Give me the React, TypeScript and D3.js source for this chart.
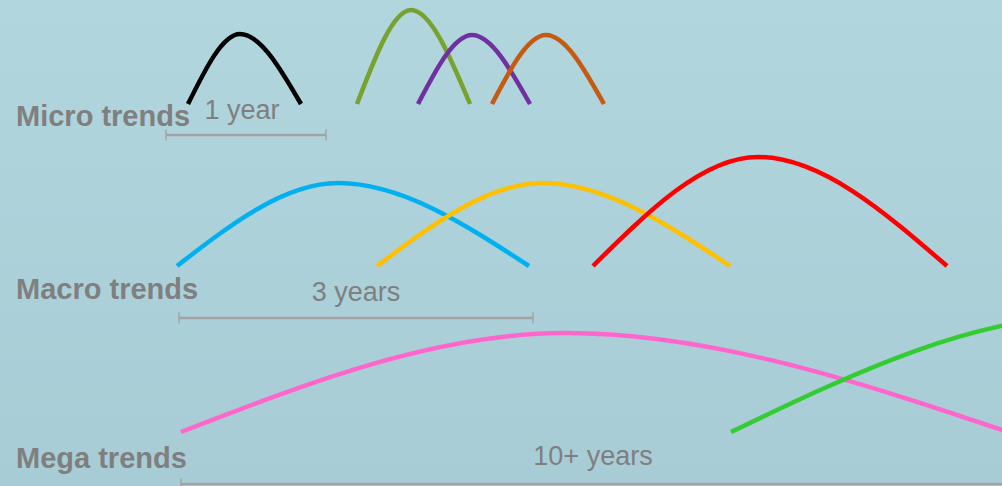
import { useEffect, useRef } from "react"
import * as d3 from "d3"

type Point = [number, number]

// x: position along the timeline, y: height above the bottom edge
const microTrends: Point[][] = [
  [[188, 382], [240, 452], [301, 382]],
  [[357, 382], [411, 476], [470, 382]],
  [[418, 382], [472, 451], [530, 382]],
  [[492, 382], [546, 451], [604, 382]],
]
const macroTrends: Point[][] = [
  [[177, 220], [338, 303], [529, 220]],
  [[377, 220], [543, 303], [730, 220]],
  [[593, 220], [758, 329], [947, 220]],
]
const megaTrends: Point[][] = [
  [[181, 54], [565, 153], [1008, 54]],
  [[731, 54], [1096, 171], [1540, 54]],
]

const microColors = ["#000000", "#78a22f", "#7030a0", "#c55a11"]
const macroColors = ["#00b0f0", "#ffc000", "#ff0000"]
const megaColors = ["#ff66cc", "#33cc33"]

const rowLabels = ["Micro trends", "Macro trends", "Mega trends"]
const rowLabelY = [360, 187, 18]

// duration bars: [start, end, height]
const spanLabels = ["1 year", "3 years", "10+ years"]
const spans: Point[] = [[166, 326], [179, 533], [181, 1010]]
const spanY = [351, 168, 2]
const spanLabelX = [242, 356, 593]
const spanLabelY = [367, 185, 21]

export default function App() {
  const svgRef = useRef<SVGSVGElement | null>(null)

  useEffect(() => {
    if (!svgRef.current) return

    const width = 1002
    const height = 486
    const svg = d3.select(svgRef.current)
    svg.selectAll("*").remove()
    svg.attr("width", width).attr("height", height).attr("viewBox", `0 0 ${width} ${height}`)

    const x = d3.scaleLinear().domain([0, width]).range([0, width])
    const y = d3.scaleLinear().domain([0, height]).range([height, 0])

    const defs = svg.append("defs")
    const grad = defs
      .append("linearGradient")
      .attr("id", "bg")
      .attr("x1", 0)
      .attr("y1", 0)
      .attr("x2", 0)
      .attr("y2", 1)
    grad.append("stop").attr("offset", "0%").attr("stop-color", "#b2d6de")
    grad.append("stop").attr("offset", "100%").attr("stop-color", "#a8ccd5")

    svg.append("rect").attr("width", width).attr("height", height).attr("fill", "url(#bg)")

    const line = d3
      .line<Point>()
      .x((d) => x(d[0]))
      .y((d) => y(d[1]))
      .curve(d3.curveMonotoneX)

    const groups: [Point[][], string[]][] = [
      [microTrends, microColors],
      [macroTrends, macroColors],
      [megaTrends, megaColors],
    ]

    groups.forEach(([series, colors]) => {
      svg
        .append("g")
        .selectAll("path")
        .data(series)
        .join("path")
        .attr("d", (d) => line(d))
        .attr("fill", "none")
        .attr("stroke", (_, i) => colors[i])
        .attr("stroke-width", 4.5)
        .attr("stroke-linecap", "butt")
    })

    const gray = "#7f7f7f"
    const barColor = "#a3a3a3"

    // duration bars
    const bars = svg.append("g")
    spans.forEach(([a, b], i) => {
      const yy = y(spanY[i])
      bars
        .append("line")
        .attr("x1", x(a))
        .attr("x2", x(b))
        .attr("y1", yy)
        .attr("y2", yy)
        .attr("stroke", barColor)
        .attr("stroke-width", 2.5)
      ;[a, b].forEach((end) => {
        bars
          .append("line")
          .attr("x1", x(end))
          .attr("x2", x(end))
          .attr("y1", yy - 5.5)
          .attr("y2", yy + 5.5)
          .attr("stroke", barColor)
          .attr("stroke-width", 1.5)
      })
    })

    svg
      .append("g")
      .selectAll("text")
      .data(spanLabels)
      .join("text")
      .text((d) => d)
      .attr("x", (_, i) => x(spanLabelX[i]))
      .attr("y", (_, i) => y(spanLabelY[i]))
      .attr("text-anchor", "middle")
      .attr("fill", gray)
      .attr("font-family", "Liberation Sans, Arial, sans-serif")
      .attr("font-size", 27)

    svg
      .append("g")
      .selectAll("text")
      .data(rowLabels)
      .join("text")
      .text((d) => d)
      .attr("x", 16)
      .attr("y", (_, i) => y(rowLabelY[i]))
      .attr("fill", gray)
      .attr("font-family", "Liberation Sans, Arial, sans-serif")
      .attr("font-size", 29)
      .attr("font-weight", 700)
  }, [])

  return (
    <svg
      ref={svgRef}
      style={{ position: "absolute", left: 0, top: 0, display: "block" }}
    />
  )
}
